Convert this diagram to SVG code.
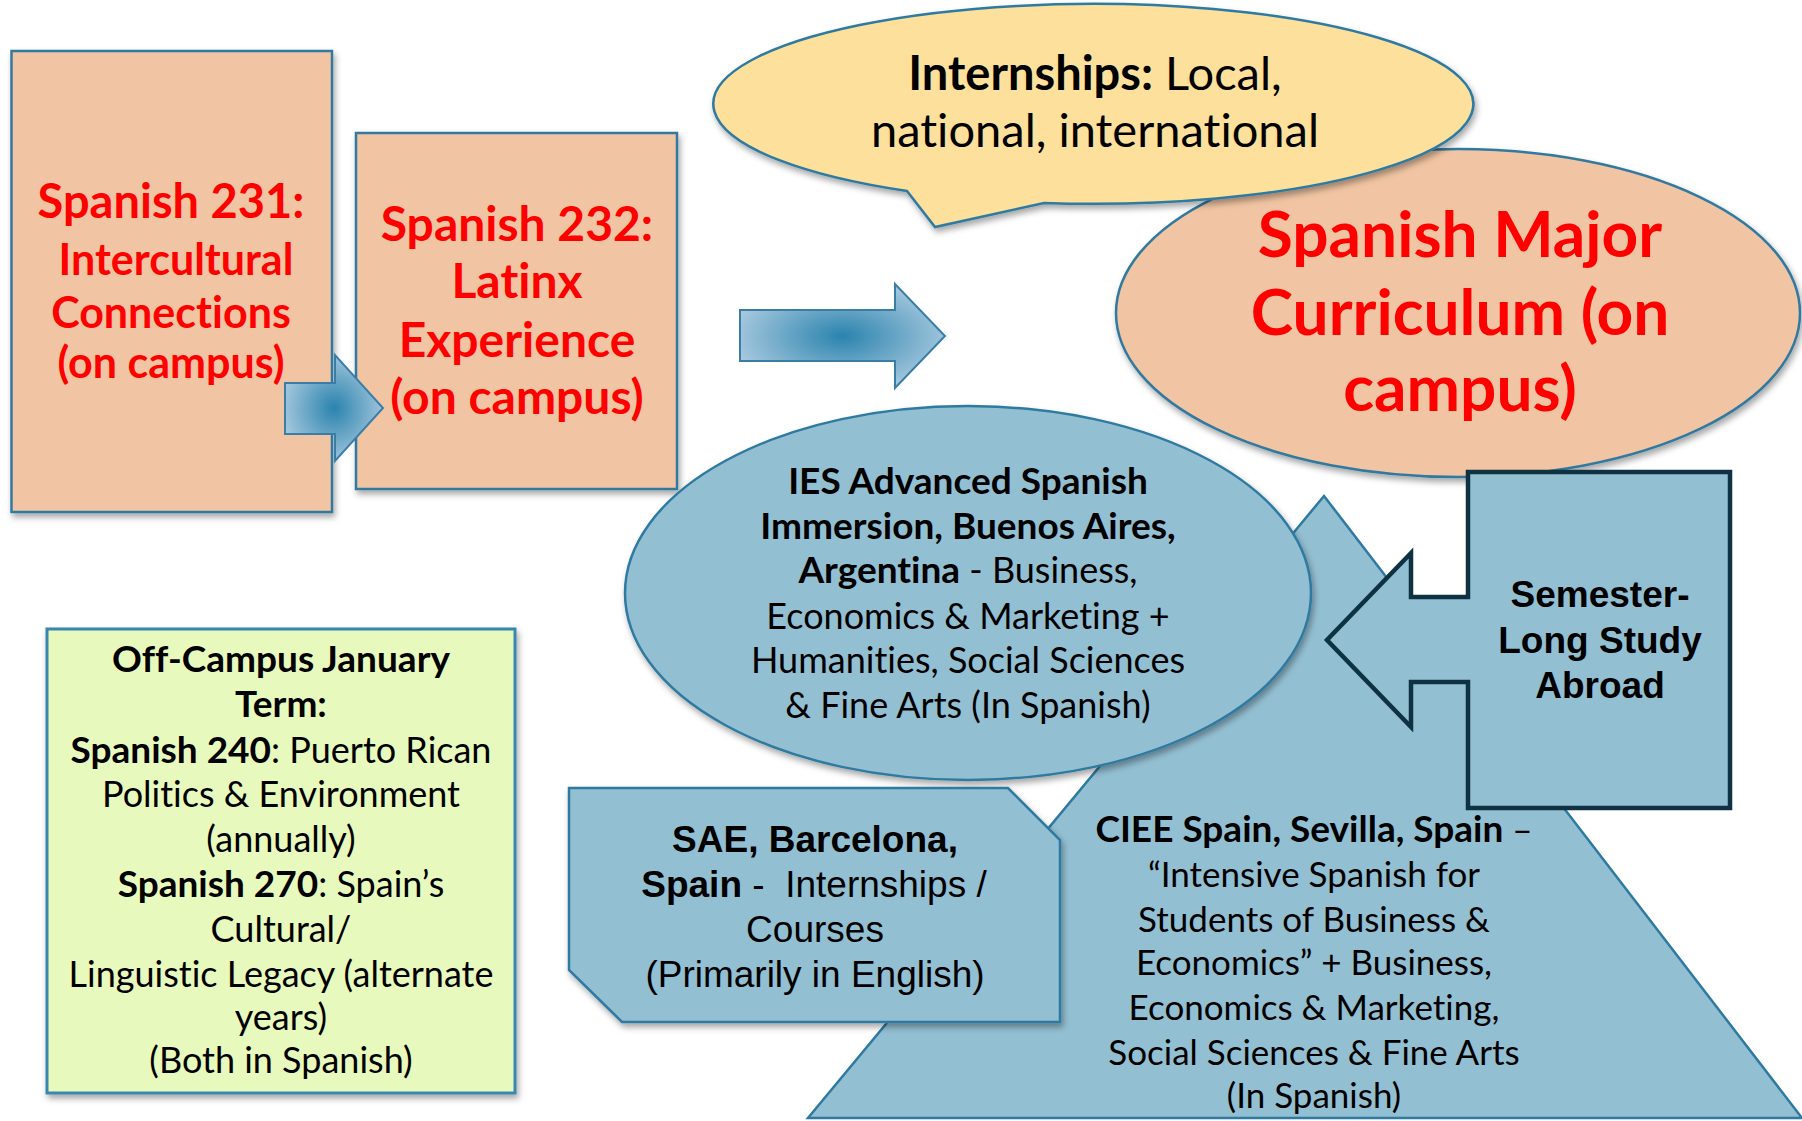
<svg xmlns="http://www.w3.org/2000/svg" width="1802" height="1121" viewBox="0 0 1802 1121">
<defs>
<filter id="sh" x="-10%" y="-10%" width="120%" height="125%">
<feDropShadow dx="2" dy="4" stdDeviation="3" flood-color="#000" flood-opacity="0.35"/>
</filter>
<radialGradient id="ag" cx="50%" cy="50%" r="55%">
<stop offset="0" stop-color="#2B83AE"/>
<stop offset="1" stop-color="#A9CADF"/>
</radialGradient>
<style>
.peach{fill:#F1C5A3;stroke:#33799F;stroke-width:2.5}
.blue{fill:#93BFD2;stroke:#2F7AA0;stroke-width:2.5}
.yel{fill:#FDE09B;stroke:#2F7AA0;stroke-width:2.5}
.grn{fill:#E8F9BE;stroke:#3A86AE;stroke-width:3}
.arr{fill:url(#ag);stroke:#3A7EA8;stroke-width:2}
.red{font-family:Lato,"Noto Sans",sans-serif;font-weight:bold;fill:#FF0000;text-anchor:middle;font-variant-ligatures:none}
.body{font-family:Lato,"Noto Sans",sans-serif;fill:#000;text-anchor:middle;font-variant-ligatures:none}
.ar{font-family:"Liberation Sans",Arial,sans-serif;fill:#000;text-anchor:middle}
.b{font-weight:bold}
.bb{font-weight:bold;font-size:37px}
</style>
</defs>

<g id="spanish231">
<rect class="peach" x="11.5" y="51" width="320.5" height="461" filter="url(#sh)"/>
<text class="red" font-size="47"><tspan x="171" y="218">Spanish 231:</tspan></text>
<text class="red" font-size="43"><tspan x="176" y="275">Intercultural</tspan><tspan x="171" y="328">Connections</tspan><tspan x="171" y="378">(on campus)</tspan></text>
</g>

<g id="spanish232">
<rect class="peach" x="356" y="133" width="321" height="356" filter="url(#sh)"/>
<text class="red" font-size="48"><tspan x="517" y="241">Spanish 232:</tspan><tspan x="517" y="298">Latinx</tspan><tspan x="517" y="357">Experience</tspan><tspan x="517" y="414">(on campus)</tspan></text>
</g>

<g id="major">
<ellipse class="peach" cx="1458" cy="313" rx="342" ry="164" filter="url(#sh)"/>
<text class="red" font-size="64"><tspan x="1460" y="257">Spanish Major</tspan><tspan x="1460" y="335">Curriculum (on</tspan><tspan x="1460" y="411">campus)</tspan></text>
</g>

<g id="internships">
<path class="yel" filter="url(#sh)" d="M907,191 L935,227 L1044,203 A380 100 0 1 0 907,191 Z"/>
<text class="body" font-size="47"><tspan x="1095" y="90"><tspan class="b">Internships:</tspan> Local,</tspan><tspan x="1095" y="147">national, international</tspan></text>
</g>

<g id="ciee">
<polygon class="blue" points="1324,496 808,1118 1802,1118"/>
<text class="body" font-size="35"><tspan x="1314" y="842"><tspan class="bb">CIEE Spain, Sevilla, Spain</tspan> –</tspan><tspan x="1314" y="887">“Intensive Spanish for</tspan><tspan x="1314" y="932">Students of Business &amp;</tspan><tspan x="1314" y="975">Economics” + Business,</tspan><tspan x="1314" y="1020">Economics &amp; Marketing,</tspan><tspan x="1314" y="1065">Social Sciences &amp; Fine Arts</tspan><tspan x="1314" y="1108">(In Spanish)</tspan></text>
</g>

<g id="ies">
<ellipse class="blue" cx="968" cy="593" rx="343" ry="187" filter="url(#sh)"/>
<text class="body" font-size="36"><tspan class="bb" x="968" y="494">IES Advanced Spanish</tspan><tspan class="bb" x="968" y="539">Immersion, Buenos Aires,</tspan><tspan x="968" y="583"><tspan class="bb">Argentina</tspan> - Business,</tspan><tspan x="968" y="629">Economics &amp; Marketing +</tspan><tspan x="968" y="673">Humanities, Social Sciences</tspan><tspan x="968" y="718">&amp; Fine Arts (In Spanish)</tspan></text>
</g>

<g id="sae">
<polygon class="blue" filter="url(#sh)" points="569,788 1008,788 1060,840 1060,1022 622,1022 569,970"/>
<text class="ar" font-size="37" xml:space="preserve"><tspan class="b" x="815" y="852">SAE, Barcelona,</tspan><tspan x="814" y="897"><tspan class="b">Spain</tspan> -  Internships /</tspan><tspan x="815" y="942">Courses</tspan><tspan x="815" y="987">(Primarily in English)</tspan></text>
</g>

<g id="semester">
<path d="M1468,472 H1730 V808 H1468 V682 H1411 V727 L1327,640 L1411,553 V597 H1468 Z" fill="#93BFD2" stroke="#0F3243" stroke-width="4.5"/>
<text class="ar b" font-size="37"><tspan x="1600" y="607">Semester-</tspan><tspan x="1600" y="653">Long Study</tspan><tspan x="1600" y="698">Abroad</tspan></text>
</g>

<g id="january">
<rect class="grn" x="47" y="629" width="468" height="464" filter="url(#sh)"/>
<text class="body" font-size="36"><tspan class="bb" x="281" y="672">Off-Campus January</tspan><tspan class="bb" x="281" y="717">Term:</tspan><tspan x="281" y="763"><tspan class="bb">Spanish 240</tspan>: Puerto Rican</tspan><tspan x="281" y="807">Politics &amp; Environment</tspan><tspan x="281" y="852">(annually)</tspan><tspan x="281" y="897"><tspan class="bb">Spanish 270</tspan>: Spain’s</tspan><tspan x="281" y="942">Cultural/</tspan><tspan x="281" y="987">Linguistic Legacy (alternate</tspan><tspan x="281" y="1030">years)</tspan><tspan x="281" y="1073">(Both in Spanish)</tspan></text>
</g>

<g id="connectors">
<polygon class="arr" points="285,383 335,383 335,355 383,408 335,461 335,434 285,434"/>
<polygon class="arr" points="740,310 895,310 895,284 945,336 895,388 895,361 740,361"/>
</g>
</svg>
